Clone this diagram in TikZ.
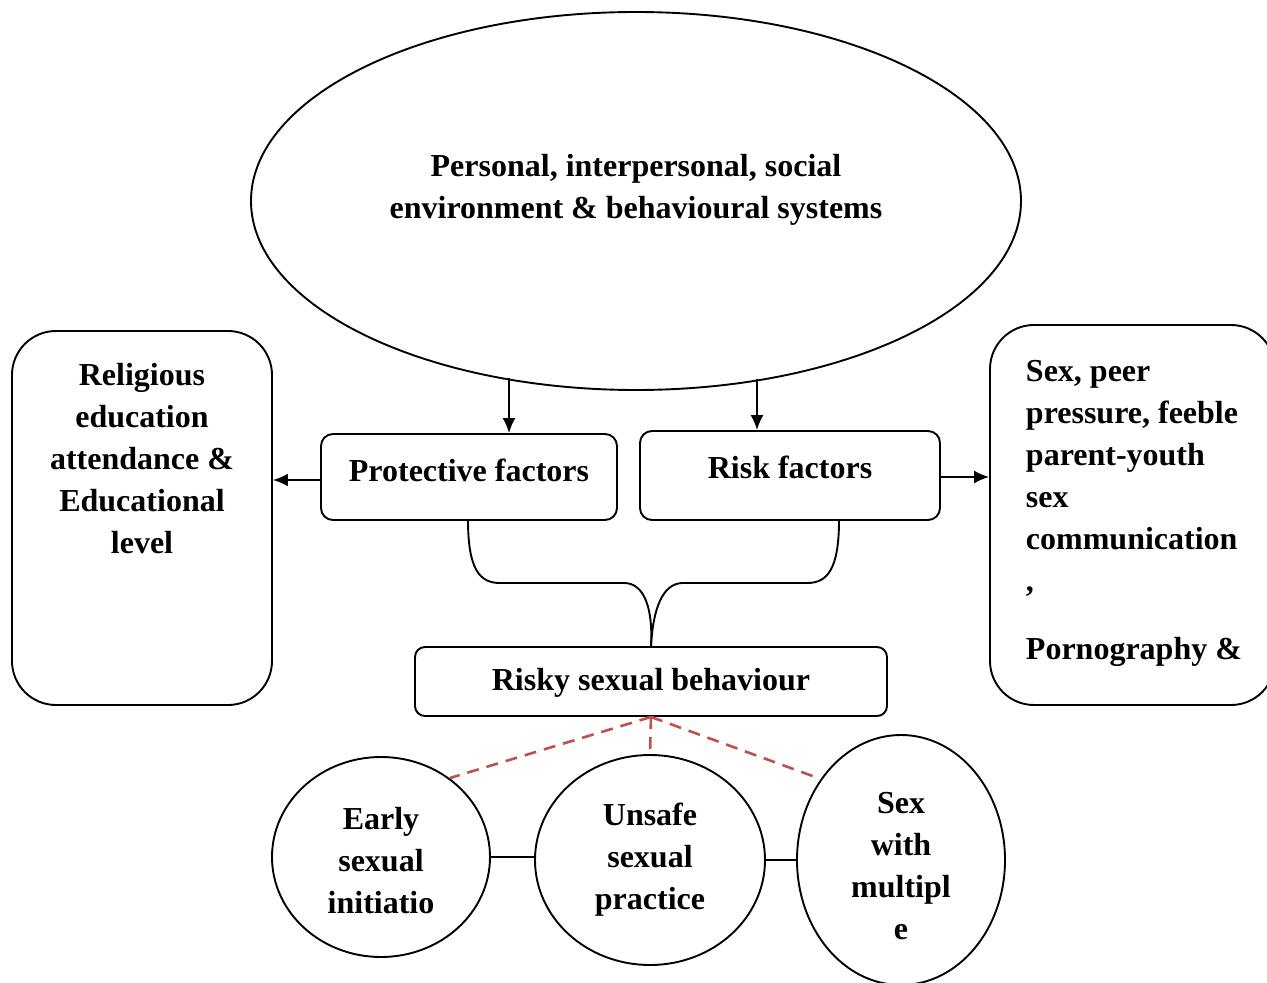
\documentclass[tikz,border=0pt]{standalone}
\usepackage{fontspec}
\setmainfont{Liberation Serif}
\usetikzlibrary{shapes.geometric,arrows.meta,calc}
\begin{document}
\begin{tikzpicture}[x=0.5pt,y=-0.5pt,
  line width=0.95pt,
  txt/.style={font=\fontsize{16pt}{21pt}\selectfont\bfseries, inner sep=0pt, align=center},
  rbox/.style={draw, rectangle, rounded corners=#1, inner sep=0pt},
  oval/.style={draw, ellipse, inner sep=0pt},
  arr/.style={-{Latex[length=7.5pt,width=6.5pt]}},
  reddash/.style={draw=dashred, line width=1.3pt, dash pattern=on 6pt off 4pt}
]
\definecolor{dashred}{RGB}{192,80,77}
\useasboundingbox (0,0) rectangle (1267,983);
\clip (0,0) rectangle (1267,983);

% shapes
\node[oval, minimum width=385pt, minimum height=189pt] (ell) at (636,201) {};
\node[rbox=6pt, minimum width=148pt, minimum height=43pt] (prot) at (469,477) {};
\node[rbox=6pt, minimum width=150pt, minimum height=44.5pt] (risk) at (790,475.5) {};
\node[rbox=22pt, minimum width=130pt, minimum height=187pt] (lbox) at (142,518) {};
\node[rbox=22pt, minimum width=142.5pt, minimum height=190pt] (rbx) at (1132.5,515) {};
\node[rbox=5pt, minimum width=236pt, minimum height=34.5pt] (rsb) at (651,681.5) {};
\node[oval, minimum width=109pt, minimum height=100pt] (c1) at (381,857) {};
\node[oval, minimum width=115pt, minimum height=105pt] (c2) at (650,860) {};
\node[oval, minimum width=104pt, minimum height=125pt] (c3) at (901,860) {};

% texts
\node[txt] (tell) at (636,190) {Personal, interpersonal, social\\environment \& behavioural systems};
\node[txt] (tprot) at (469,470) {Protective factors};
\node[txt] (trisk) at (790,467) {Risk factors};
\node[txt] (tl) at (142,459) {Religious\\education\\attendance \&\\Educational\\level};
\node[txt, align=left, anchor=west] (tr) at (1025,478) {Sex, peer\\pressure, feeble\\parent-youth\\sex\\communication\\,};
\node[txt, anchor=west] (tr2) at (1025,652) {Pornography \&};
\node[txt] (trsb) at (651,683) {Risky sexual behaviour};
\node[txt] (tc1) at (381,861) {Early\\sexual\\initiatio};
\node[txt] (tc2) at (650,860) {Unsafe\\sexual\\practice};
\node[txt] (tc3) at (901,866) {Sex\\with\\multipl\\e};

% arrows from ellipse
\coordinate (a1) at (509,378);
\coordinate (a2) at (757,379);
\draw[arr] (a1) -- (a1 |- prot.north);
\draw[arr] (a2) -- (a2 |- risk.north);
\draw[arr] (prot.west |- 0,480) -- (lbox.east |- 0,480);
\draw[arr] (risk.east |- 0,477) -- (rbx.west |- 0,477);

% brace
\coordinate (bl) at (468,520);
\coordinate (br) at (839,520);
\coordinate (bm) at (rsb.north);
\draw (bl) .. controls (468,570) and (480,583) .. (500,583) -- (624,583)
      .. controls (645,583) and (653,610) .. (bm);
\draw (br) .. controls (839,570) and (827,583) .. (807,583) -- (683,583)
      .. controls (662,583) and (653,610) .. (bm);

% dashed
\coordinate (ds) at (rsb.south);
\draw[reddash] (ds) -- (450,778);
\draw[reddash] (ds) -- (c2.north);
\draw[reddash] (ds) -- (818,778);

% circle links
\draw (c1.east) -- (c1.east -| c2.west);
\draw (c2.east) -- (c2.east -| c3.west);
\end{tikzpicture}
\end{document}
